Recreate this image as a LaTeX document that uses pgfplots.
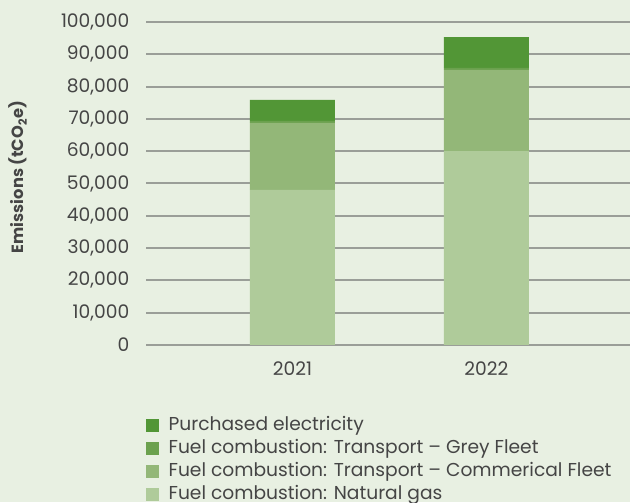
\documentclass[border=0pt]{standalone}
\usepackage{pgfplots}
\pgfplotsset{compat=1.18}
\usepackage{fontspec}
\setmainfont{Poppins}
\definecolor{bg}{HTML}{E8F0E2}
\definecolor{pe}{HTML}{529636}
\definecolor{gf}{HTML}{6BA14E}
\definecolor{cf}{HTML}{93B778}
\definecolor{ng}{HTML}{AFCB9A}
\definecolor{txt}{HTML}{454545}
\definecolor{grd}{HTML}{9A9E98}
\begin{document}
\begin{tikzpicture}
\useasboundingbox (0,0) rectangle (472.5pt,376.5pt);
\fill[bg] (0,0) rectangle (472.5pt,376.5pt);
\begin{axis}[
  at={(109.5pt,117.75pt)}, anchor=south west,
  scale only axis, width=363pt, height=242.25pt,
  ybar stacked, bar width=63.75pt,
  xmin=-0.755, xmax=1.74, ymin=0, ymax=100000,
  xtick={0,1}, xticklabels={2021,2022},
  ytick={0,10000,20000,30000,40000,50000,60000,70000,80000,90000,100000},
  yticklabels={0,{10,000},{20,000},{30,000},{40,000},{50,000},{60,000},{70,000},{80,000},{90,000},{100,000}},
  scaled y ticks=false,
  axis x line*=bottom, axis y line*=left,
  x axis line style={draw=none}, y axis line style={draw=none},
  major tick length=0pt,
  ymajorgrids, grid style={grd, line width=1.5pt},
  tick label style={font=\fontsize{14}{15}\selectfont, text=txt},
  yticklabel style={xshift=-9pt},
  xticklabel style={yshift=-9pt},
  ylabel={\textbf{Emissions (tCO\textsubscript{2}e)}},
  ylabel style={at={(axis description cs:-0.264,0.52)}, anchor=center, font=\fontsize{12.2}{13}\selectfont, text=txt},
  legend style={at={(axis description cs:0,-0.212)}, anchor=north west, draw=none, fill=none, inner sep=0pt,
    font=\fontsize{14}{15}\selectfont, text=txt, row sep=0pt,
    nodes={text height=10.3pt, text depth=3pt},
    /tikz/every odd column/.append style={column sep=5pt}},
  legend cell align=left,
  reverse legend,
  legend image code/.code={\fill[#1] (0pt,-4.9pt) rectangle (9.75pt,4.85pt);},
  every axis plot/.append style={draw=none},
]
\addplot[fill=ng] coordinates {(0,48000) (1,60000)};
\addplot[fill=cf] coordinates {(0,20800) (1,25200)};
\addplot[fill=gf] coordinates {(0,600) (1,600)};
\addplot[fill=pe] coordinates {(0,6500) (1,9500)};
\legend{Fuel combustion: Natural gas,Fuel combustion: Transport – Commerical Fleet,Fuel combustion: Transport – Grey Fleet,Purchased electricity}
\end{axis}
\end{tikzpicture}
\end{document}
